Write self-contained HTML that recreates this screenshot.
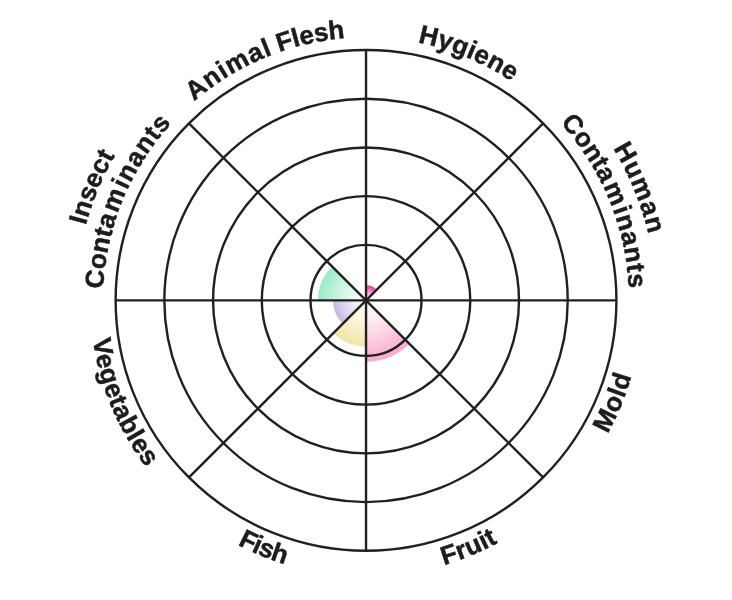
<!DOCTYPE html>
<html lang="en"><head><meta charset="utf-8"><title>Contaminants radar</title>
<style>
html,body{margin:0;padding:0;background:#fff;}
body{width:732px;height:600px;overflow:hidden;}
svg{display:block;}
#wrap{will-change:transform;}
.lbl{font-family:"Liberation Sans",Arial,sans-serif;font-weight:700;font-size:26px;fill:#1c1c1c;stroke:#1c1c1c;stroke-width:0.5px;stroke-linejoin:round;}
.grid{fill:none;stroke:#202020;stroke-width:2.4;}
</style></head><body><div id="wrap">
<svg width="732" height="600" viewBox="0 0 732 600">
<rect width="732" height="600" fill="#fff"/>
<defs>
<radialGradient id="g-hyg" gradientUnits="userSpaceOnUse" cx="366.03" cy="300.4" r="15.1"><stop offset="0" stop-color="#ffffff"/><stop offset="0.2" stop-color="#fbe7f2"/><stop offset="0.4" stop-color="#f5c4de"/><stop offset="0.6" stop-color="#ee9bc8"/><stop offset="0.8" stop-color="#e66daf"/><stop offset="1.0" stop-color="#de3c94"/></radialGradient>
<radialGradient id="g-fruit" gradientUnits="userSpaceOnUse" cx="366.03" cy="300.4" r="61.35"><stop offset="0" stop-color="#ffffff"/><stop offset="0.2" stop-color="#fef5f9"/><stop offset="0.4" stop-color="#fde5ef"/><stop offset="0.6" stop-color="#fbd3e4"/><stop offset="0.8" stop-color="#fabfd8"/><stop offset="1.0" stop-color="#f8aacb"/></radialGradient>
<radialGradient id="g-fish" gradientUnits="userSpaceOnUse" cx="366.03" cy="300.4" r="46.1"><stop offset="0" stop-color="#ffffff"/><stop offset="0.2" stop-color="#fdfcf4"/><stop offset="0.4" stop-color="#fbf7e3"/><stop offset="0.6" stop-color="#f8f1d0"/><stop offset="0.8" stop-color="#f5ebbb"/><stop offset="1.0" stop-color="#f1e4a4"/></radialGradient>
<radialGradient id="g-veg" gradientUnits="userSpaceOnUse" cx="366.03" cy="300.4" r="33.0"><stop offset="0" stop-color="#ffffff"/><stop offset="0.2" stop-color="#f8f6fc"/><stop offset="0.4" stop-color="#ede9f7"/><stop offset="0.6" stop-color="#e1daf1"/><stop offset="0.8" stop-color="#d4caeb"/><stop offset="1.0" stop-color="#c5b8e4"/></radialGradient>
<radialGradient id="g-ins" gradientUnits="userSpaceOnUse" cx="366.03" cy="300.4" r="47.9"><stop offset="0" stop-color="#ffffff"/><stop offset="0.2" stop-color="#f2fcf8"/><stop offset="0.4" stop-color="#e0f9ee"/><stop offset="0.6" stop-color="#caf4e2"/><stop offset="0.8" stop-color="#b2efd5"/><stop offset="1.0" stop-color="#98eac7"/></radialGradient>
<path id="p0" d="M132.32,179.78A263.0,263.0 0 0 1 444.24,49.30"/>
<path id="p1" d="M286.94,49.57A263.0,263.0 0 0 1 599.31,178.96"/>
<path id="p2" d="M500.83,43.64A290.0,290.0 0 0 1 642.30,388.57"/>
<path id="p3" d="M487.67,67.22A263.0,263.0 0 0 1 616.79,379.70"/>
<path id="p4" d="M494.11,544.88A276.0,276.0 0 0 0 629.04,216.72"/>
<path id="p5" d="M283.04,563.63A276.0,276.0 0 0 0 610.84,427.84"/>
<path id="p6" d="M121.22,427.84A276.0,276.0 0 0 0 449.02,563.63"/>
<path id="p7" d="M102.44,218.55A276.0,276.0 0 0 0 239.66,545.77"/>
<path id="p8" d="M89.45,387.60A290.0,290.0 0 0 1 232.12,43.17"/>
<path id="p9" d="M115.20,379.49A263.0,263.0 0 0 1 244.59,67.12"/>
</defs>
<g>
<path d="M366.03,300.40L366.03,285.30A15.10,15.10 0 0 1 376.71,289.72Z" fill="url(#g-hyg)"/>
<path d="M366.03,300.40L409.41,343.78A61.35,61.35 0 0 1 366.03,361.75Z" fill="url(#g-fruit)"/>
<path d="M366.03,300.40L366.03,346.50A46.10,46.10 0 0 1 333.43,333.00Z" fill="url(#g-fish)"/>
<path d="M366.03,300.40L342.70,323.73A33.00,33.00 0 0 1 333.03,300.40Z" fill="url(#g-veg)"/>
<path d="M366.03,300.40L318.13,300.40A47.90,47.90 0 0 1 332.16,266.53Z" fill="url(#g-ins)"/>
</g>
<g class="grid">
<circle cx="366.03" cy="300.4" r="55.5"/>
<circle cx="366.03" cy="300.4" r="104.24"/>
<circle cx="366.03" cy="300.4" r="152.96"/>
<circle cx="366.03" cy="300.4" r="201.68"/>
<circle cx="366.03" cy="300.4" r="250.4"/>
<line x1="366.03" y1="50.00" x2="366.03" y2="550.80"/>
<line x1="543.09" y1="123.34" x2="188.97" y2="477.46"/>
<line x1="616.43" y1="300.40" x2="115.63" y2="300.40"/>
<line x1="543.09" y1="477.46" x2="188.97" y2="123.34"/>
</g>
<g class="lbl">
<text text-anchor="middle" letter-spacing="-0.12"><textPath href="#p0" startOffset="50%"><tspan letter-spacing="1.05">Anima</tspan>l Flesh</textPath></text>
<text text-anchor="middle" letter-spacing="0.2"><textPath href="#p1" startOffset="50%">Hygiene</textPath></text>
<text text-anchor="middle" letter-spacing="1.2"><textPath href="#p2" startOffset="50%">Human</textPath></text>
<text text-anchor="middle" letter-spacing="0.85"><textPath href="#p3" startOffset="50%"><tspan letter-spacing="0.18">Cont</tspan><tspan letter-spacing="2.2">am</tspan>inants</textPath></text>
<text text-anchor="middle" letter-spacing="0.6"><textPath href="#p4" startOffset="50%">Mold</textPath></text>
<text text-anchor="middle" letter-spacing="0.2"><textPath href="#p5" startOffset="50%">Fruit</textPath></text>
<text text-anchor="middle" letter-spacing="-0.7"><textPath href="#p6" startOffset="50%">Fish</textPath></text>
<text text-anchor="middle" letter-spacing="0.45"><textPath href="#p7" startOffset="50%">Vegetables</textPath></text>
<text text-anchor="middle" letter-spacing="0.2"><textPath href="#p8" startOffset="50%">Insect</textPath></text>
<text text-anchor="middle" letter-spacing="0.85"><textPath href="#p9" startOffset="50%"><tspan letter-spacing="0.18">Cont</tspan><tspan letter-spacing="2.2">am</tspan>inants</textPath></text>
</g>
</svg></div></body></html>
